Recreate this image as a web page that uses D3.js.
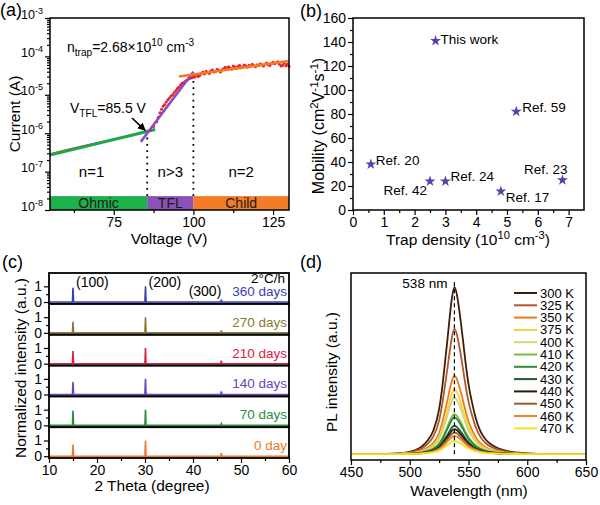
<!DOCTYPE html>
<html>
<head>
<meta charset="utf-8">
<script src="https://cdn.jsdelivr.net/npm/d3@7"></script>
<style>
body { margin: 0; background: #fff; }
svg { font-family: "Liberation Sans", Arial, sans-serif; }
.axis .domain { display: none; }
.axis line { stroke: #000; stroke-width: 1.2; }
.axis text { font-size: 14px; fill: #000; font-family: "Liberation Sans", Arial, sans-serif; }
</style>
</head>
<body>
<svg id="fig" width="600" height="505"></svg>
<script>
// ---------------- data ----------------
// (a) SCLC curve
var ohmicTrace = [[55,2.85e-7],[60,3.6e-7],[65,4.5e-7],[70,5.6e-7],[75,6.9e-7],[80,8.5e-7],[83,9.9e-7],[85,1.1e-6],[86,1.15e-6]];
var tflPoints = [[86.5,1.2e-6],[87.5,1.5e-6],[88.5,2.0e-6],[89,2.6e-6],[89.5,3.4e-6],[90,4.2e-6],[90.5,5.0e-6],[91,5.6e-6],
  [91.5,6.5e-6],[92,7.4e-6],[92.5,8.2e-6],[93,9.3e-6],[93.5,1.0e-5],[94,1.15e-5],[94.5,1.3e-5],[95,1.45e-5],[95.5,1.6e-5],
  [96,1.8e-5],[96.5,2.0e-5],[97,2.1e-5],[97.5,2.3e-5],[98,2.4e-5],[98.5,2.6e-5],[99,2.7e-5],[99.5,2.8e-5],[100,2.9e-5]];
var childPoints = [[100.5,2.9e-5],[101,3.3e-5],[101.5,3.0e-5],[102,3.2e-5],[102.5,3.6e-5],[103,3.9e-5],[103.5,3.5e-5],[104,4.1e-5],
  [104.5,3.8e-5],[105,3.6e-5],[105.5,4.2e-5],[106,4.4e-5],[106.5,3.9e-5],[107,4.1e-5],[107.5,4.6e-5],[108,4.3e-5],[108.5,3.9e-5],
  [109,4.5e-5],[109.5,4.8e-5],[110,5.2e-5],[110.5,4.6e-5],[111,5.4e-5],[111.5,5.0e-5],[112,4.7e-5],[112.5,5.6e-5],[113,5.3e-5],
  [113.5,4.9e-5],[114,5.5e-5],[114.5,5.8e-5],[115,5.1e-5],[115.5,5.4e-5],[116,6.0e-5],[116.5,5.6e-5],[117,5.2e-5],[117.5,5.9e-5],
  [118,5.5e-5],[118.5,6.2e-5],[119,5.7e-5],[119.5,5.4e-5],[120,6.1e-5],[120.5,5.8e-5],[121,6.4e-5],[121.5,6.0e-5],[122,5.6e-5],
  [122.5,6.3e-5],[123,6.7e-5],[123.5,6.1e-5],[124,5.8e-5],[124.5,6.5e-5],[125,7.0e-5],[125.5,6.4e-5],[126,6.8e-5],[126.5,7.3e-5],
  [127,6.2e-5],[127.5,5.6e-5],[128,5.9e-5],[128.5,6.6e-5],[129,5.7e-5],[129.5,6.2e-5],[130,5.5e-5]];
var fitOhmic = [[55,2.7e-7],[88,1.25e-6]];
var fitTFL = [[83.5,6.0e-7],[100,4.0e-5]];
var fitChild = [[95.5,3.0e-5],[130,7.6e-5]];
var regionNames = ["Ohmic", "TFL", "Child"];
var regionBounds = [55, 85.5, 100, 130];
var regionSlopes = ["n=1", "n>3", "n=2"];
var dotTops = [1.0e-6, 3.4e-5];

// (b) mobility vs trap density
var refNames = ["This work", "Ref. 59", "Ref. 20", "Ref. 42", "Ref. 24", "Ref. 17", "Ref. 23"];
var trapDensity = [2.68, 5.3, 0.58, 2.5, 3.0, 4.8, 6.8];
var mobility = [141, 82, 38, 24, 24, 15.5, 25];

// (c) XRD
var xrdLabels = ["360 days", "270 days", "210 days", "140 days", "70 days", "0 day"];
var peakPos = [15.0, 30.1, 45.9];
var peakNames = ["(100)", "(200)", "(300)"];
var peakHeights = [[0.9,1.0,0.15],[0.7,1.0,0.15],[0.8,1.0,0.2],[0.8,1.0,0.2],[0.95,1.0,0.1],[0.75,1.0,0.2]];

// (d) PL spectra
var temps = ["300 K","325 K","350 K","375 K","400 K","410 K","420 K","430 K","440 K","450 K","460 K","470 K"];
var plPeak = [1.0, 0.75, 0.47, 0.39, 0.34, 0.24, 0.22, 0.17, 0.15, 0.13, 0.11, 0.08];
var plWave = [450,480,490,500,505,510,515,520,525,528,530,532,534,536,538,540,542,544,546,548,550,553,556,560,565,570,580,590,600,620,650];
var plShape = [0,0.002,0.005,0.014,0.025,0.044,0.08,0.14,0.27,0.42,0.55,0.68,0.82,0.94,1.0,0.96,0.87,0.76,0.64,0.52,0.42,0.31,0.22,0.14,0.085,0.055,0.024,0.01,0.005,0.001,0];

// ---------------- style ----------------
var xrdColors = ["#3b3db3", "#8c7a2c", "#e0213c", "#6a42c2", "#2a8f3c", "#ec7a2a"];
var plColors = ["#3d1e0a","#b3572b","#f07a12","#f6d23c","#cbd97a","#7cb83c","#2f8a3c","#1c5a2a","#2a1a0a","#9c5c30","#f08222","#f2e224"];
var regionColors = ["#1db14b", "#8a52b8", "#f47b28"];
var starColor = "#5b3fa6";

var svg = d3.select("#fig");

function rich(t, parts, size) {
  var off = 0;
  parts.forEach(function (p) {
    var shift = p[1] === "sup" ? -size * 0.4 : (p[1] === "sub" ? size * 0.28 : 0);
    t.append("tspan")
      .attr("dy", shift - off)
      .style("font-size", (p[1] ? size * 0.72 : size) + "px")
      .text(p[0]);
    off = shift;
  });
  return t;
}

function axisX(g, scale, y, major, minor, fmt) {
  g.append("g").attr("class", "axis").attr("transform", "translate(0," + y + ")")
    .call(d3.axisBottom(scale).tickValues(minor).tickSize(3).tickFormat(""));
  return g.append("g").attr("class", "axis").attr("transform", "translate(0," + y + ")")
    .call(d3.axisBottom(scale).tickValues(major).tickSize(5).tickPadding(2).tickFormat(fmt));
}
function axisY(g, scale, x, major, minor, fmt) {
  g.append("g").attr("class", "axis").attr("transform", "translate(" + x + ",0)")
    .call(d3.axisLeft(scale).tickValues(minor).tickSize(3).tickFormat(""));
  return g.append("g").attr("class", "axis").attr("transform", "translate(" + x + ",0)")
    .call(d3.axisLeft(scale).tickValues(major).tickSize(5).tickPadding(2).tickFormat(fmt));
}
function frame(g, x0, y0, x1, y1, w) {
  g.append("rect").attr("x", x0).attr("y", y0).attr("width", x1 - x0).attr("height", y1 - y0)
    .attr("fill", "none").attr("stroke", "#000").attr("stroke-width", w || 1.5);
}
function panelLabel(txt, x, y) {
  svg.append("text").attr("x", x).attr("y", y).style("font-size", "18px").text(txt);
}

// ================= (a) =================
var gA = svg.append("g");
var xA = d3.scaleLinear().domain([55, 130]).range([50, 289]);
var yA = d3.scaleLog().domain([1e-8, 1e-3]).range([210, 18]);
var lineA = d3.line().x(function (d) { return xA(d[0]); }).y(function (d) { return yA(d[1]); });

// region bar
var barTop = 2.3e-8;
regionNames.forEach(function (n, i) {
  gA.append("rect").attr("x", xA(regionBounds[i])).attr("y", yA(barTop))
    .attr("width", xA(regionBounds[i + 1]) - xA(regionBounds[i])).attr("height", yA(1e-8) - yA(barTop))
    .attr("fill", regionColors[i]);
  gA.append("text").attr("x", (xA(regionBounds[i]) + xA(regionBounds[i + 1])) / 2).attr("y", yA(1e-8) - 2.5)
    .attr("text-anchor", "middle").style("font-size", "14px").attr("fill", "#1a1a1a").text(n);
  gA.append("text").attr("x", (xA(regionBounds[i]) + xA(regionBounds[i + 1])) / 2 - (i === 0 ? 7 : 0)).attr("y", yA(1e-7) + 5)
    .attr("text-anchor", "middle").style("font-size", "15px").text(regionSlopes[i]);
});
[regionBounds[1], regionBounds[2]].forEach(function (v, i) {
  gA.append("line").attr("x1", xA(v)).attr("x2", xA(v)).attr("y1", yA(barTop)).attr("y2", yA(dotTops[i]))
    .attr("stroke", "#000").attr("stroke-width", 1.8).attr("stroke-dasharray", "1.8,4.5");
});

gA.append("path").datum(ohmicTrace).attr("d", lineA).attr("fill", "none").attr("stroke", "#e8202a").attr("stroke-width", 2);
gA.append("path").datum(fitOhmic).attr("d", lineA).attr("fill", "none").attr("stroke", "#1fa84a").attr("stroke-width", 3);
gA.selectAll("circle.p").data(tflPoints.concat(childPoints)).enter().append("circle")
  .attr("cx", function (d) { return xA(d[0]); }).attr("cy", function (d) { return yA(d[1]); })
  .attr("r", 1.5).attr("fill", "#e8202a");
gA.append("path").datum(fitTFL).attr("d", lineA).attr("fill", "none").attr("stroke", "#8a4cc0").attr("stroke-width", 2.6);
gA.append("path").datum(fitChild).attr("d", lineA).attr("fill", "none").attr("stroke", "#f47a20").attr("stroke-width", 2.6);

rich(gA.append("text").attr("x", 67).attr("y", 52), [["n"], ["trap", "sub"], ["=2.68×10"], ["10", "sup"], [" cm"], ["-3", "sup"]], 14);
rich(gA.append("text").attr("x", 70).attr("y", 113), [["V"], ["TFL", "sub"], ["=85.5 V"]], 14);

svg.append("defs").append("marker").attr("id", "arr").attr("viewBox", "0 0 10 10").attr("refX", 9).attr("refY", 5)
  .attr("markerWidth", 5).attr("markerHeight", 5).attr("orient", "auto")
  .append("path").attr("d", "M0,0L10,5L0,10z").attr("fill", "#000");
gA.append("line").attr("x1", 132).attr("y1", 118).attr("x2", xA(85.5) - 2).attr("y2", yA(1.05e-6) - 2)
  .attr("stroke", "#000").attr("stroke-width", 1.6).attr("marker-end", "url(#arr)");

var logMinor = [];
for (var e = -8; e < -3; e++) for (var m = 2; m < 10; m++) logMinor.push(m * Math.pow(10, e));
axisX(gA, xA, 210, [75, 100, 125], [62.5, 87.5, 112.5], d3.format("d"));
var yAxA = axisY(gA, yA, 50, [1e-8, 1e-7, 1e-6, 1e-5, 1e-4, 1e-3], logMinor, function () { return ""; });
yAxA.selectAll(".tick text").attr("dy", "0.45em").each(function (d) {
  rich(d3.select(this), [["10"], [String(Math.round(Math.log10(d))), "sup"]], 12.5);
});
frame(gA, 50, 18, 289, 210);
gA.append("text").attr("transform", "translate(20,114) rotate(-90)").attr("text-anchor", "middle")
  .style("font-size", "15.5px").text("Current (A)");
gA.append("text").attr("x", 169).attr("y", 244).attr("text-anchor", "middle").style("font-size", "15.5px").text("Voltage (V)");
panelLabel("(a)", 0, 16);

// ================= (b) =================
var gB = svg.append("g");
var xB = d3.scaleLinear().domain([0, 7.5]).range([353, 584]);
var yB = d3.scaleLinear().domain([0, 160]).range([210, 18]);
var refLabelPos = [[5, 3, "start"], [6, 0, "start"], [5, 1, "start"], [-3, 14, "end"], [5, 0, "start"], [5, 11, "start"], [5, -6, "end"]];
var star = d3.symbol().type(d3.symbolStar).size(38);
refNames.forEach(function (n, i) {
  var cx = xB(trapDensity[i]), cy = yB(mobility[i]);
  gB.append("path").attr("d", star).attr("transform", "translate(" + cx + "," + cy + ")").attr("fill", starColor);
  gB.append("text").attr("x", cx + refLabelPos[i][0]).attr("y", cy + refLabelPos[i][1])
    .attr("text-anchor", refLabelPos[i][2]).style("font-size", "13.5px").text(n);
});
axisX(gB, xB, 210, d3.range(0, 8), d3.range(0.5, 7.5, 1), d3.format("d"));
axisY(gB, yB, 353, d3.range(0, 161, 20), d3.range(10, 160, 20), d3.format("d"));
frame(gB, 353, 18, 584, 210);
rich(gB.append("text").attr("transform", "translate(324,126) rotate(-90)").attr("text-anchor", "middle"),
  [["Mobility (cm"], ["2", "sup"], ["V"], ["-1", "sup"], ["s"], ["-1", "sup"], [")"]], 16);
rich(gB.append("text").attr("x", 468).attr("y", 245).attr("text-anchor", "middle"),
  [["Trap density (10"], ["10", "sup"], [" cm"], ["-3", "sup"], [")"]], 15.5);
panelLabel("(b)", 300, 17);

// ================= (c) =================
var gC = svg.append("g");
var xC = d3.scaleLinear().domain([10, 60]).range([49, 289]);
var cTop = 273, cBot = 458, subH = (cBot - cTop) / xrdLabels.length;
xrdLabels.forEach(function (lab, i) {
  var y0 = cTop + i * subH, y1 = y0 + subH;
  var yC = d3.scaleLinear().domain([-0.115, 1.85]).range([y1, y0]);
  var pts = [[10, 0]];
  peakPos.forEach(function (p, k) { pts.push([p - 0.12, 0], [p, peakHeights[i][k]], [p + 0.12, 0]); });
  pts.push([60, 0]);
  gC.append("path").datum(pts)
    .attr("d", d3.line().x(function (d) { return xC(d[0]); }).y(function (d) { return yC(d[1]); }))
    .attr("fill", "none").attr("stroke", xrdColors[i]).attr("stroke-width", 1.6);
  axisY(gC, yC, 49, [0, 1], [0.5], d3.format("d"));
  gC.append("text").attr("x", 287).attr("y", y1 - 8).attr("text-anchor", "end")
    .style("font-size", "13.5px").attr("fill", xrdColors[i]).text(lab);
  frame(gC, 49, y0, 289, y1, 1.8);
});
gC.append("text").attr("x", 285).attr("y", 283).attr("text-anchor", "end").style("font-size", "13.5px").text("2°C/h");
var peakLabelPos = [[3, 287, "start"], [3, 287, "start"], [0, 296, "end"]];
peakNames.forEach(function (n, k) {
  gC.append("text").attr("x", xC(peakPos[k]) + peakLabelPos[k][0]).attr("y", peakLabelPos[k][1])
    .attr("text-anchor", peakLabelPos[k][2]).style("font-size", "14px").text(n);
});
axisX(gC, xC, cBot, d3.range(10, 61, 10), d3.range(15, 60, 10), d3.format("d"));
gC.append("text").attr("transform", "translate(26,368) rotate(-90)").attr("text-anchor", "middle")
  .style("font-size", "15.5px").text("Normalized intensity (a.u.)");
gC.append("text").attr("x", 152).attr("y", 491).attr("text-anchor", "middle").style("font-size", "15.5px").text("2 Theta (degree)");
panelLabel("(c)", 2, 268);

// ================= (d) =================
var gD = svg.append("g");
var dTop = 273, dBot = 460;
var xD = d3.scaleLinear().domain([450, 650]).range([351, 586]);
var yD = d3.scaleLinear().domain([-0.035, 1.085]).range([dBot, dTop]);
temps.forEach(function (t, i) {
  var pts = plWave.map(function (w, j) { return [w, plShape[j] * plPeak[i]]; });
  gD.append("path").datum(pts)
    .attr("d", d3.line().curve(d3.curveMonotoneX).x(function (d) { return xD(d[0]); }).y(function (d) { return yD(d[1]); }))
    .attr("fill", "none").attr("stroke", plColors[i]).attr("stroke-width", 1.8);
});
gD.append("line").attr("x1", xD(538)).attr("x2", xD(538)).attr("y1", yD(0)).attr("y2", yD(1.03))
  .attr("stroke", "#000").attr("stroke-width", 1.2).attr("stroke-dasharray", "4,3");
gD.append("text").attr("x", xD(538) - 7).attr("y", 288).attr("text-anchor", "end").style("font-size", "13.5px").text("538 nm");
temps.forEach(function (t, i) {
  var ly = 293 + i * 12.3;
  gD.append("line").attr("x1", 514).attr("x2", 537).attr("y1", ly).attr("y2", ly)
    .attr("stroke", plColors[i]).attr("stroke-width", 2);
  gD.append("text").attr("x", 540).attr("y", ly + 4.5).style("font-size", "13px").text(t);
});
axisX(gD, xD, dBot, d3.range(450, 651, 50), d3.range(475, 650, 50), d3.format("d"));
frame(gD, 351, dTop, 586, dBot);
gD.append("text").attr("transform", "translate(337,372) rotate(-90)").attr("text-anchor", "middle")
  .style("font-size", "15.5px").text("PL intensity (a.u.)");
gD.append("text").attr("x", 469).attr("y", 496).attr("text-anchor", "middle").style("font-size", "15.5px").text("Wavelength (nm)");
panelLabel("(d)", 300, 268);
</script>
</body>
</html>
